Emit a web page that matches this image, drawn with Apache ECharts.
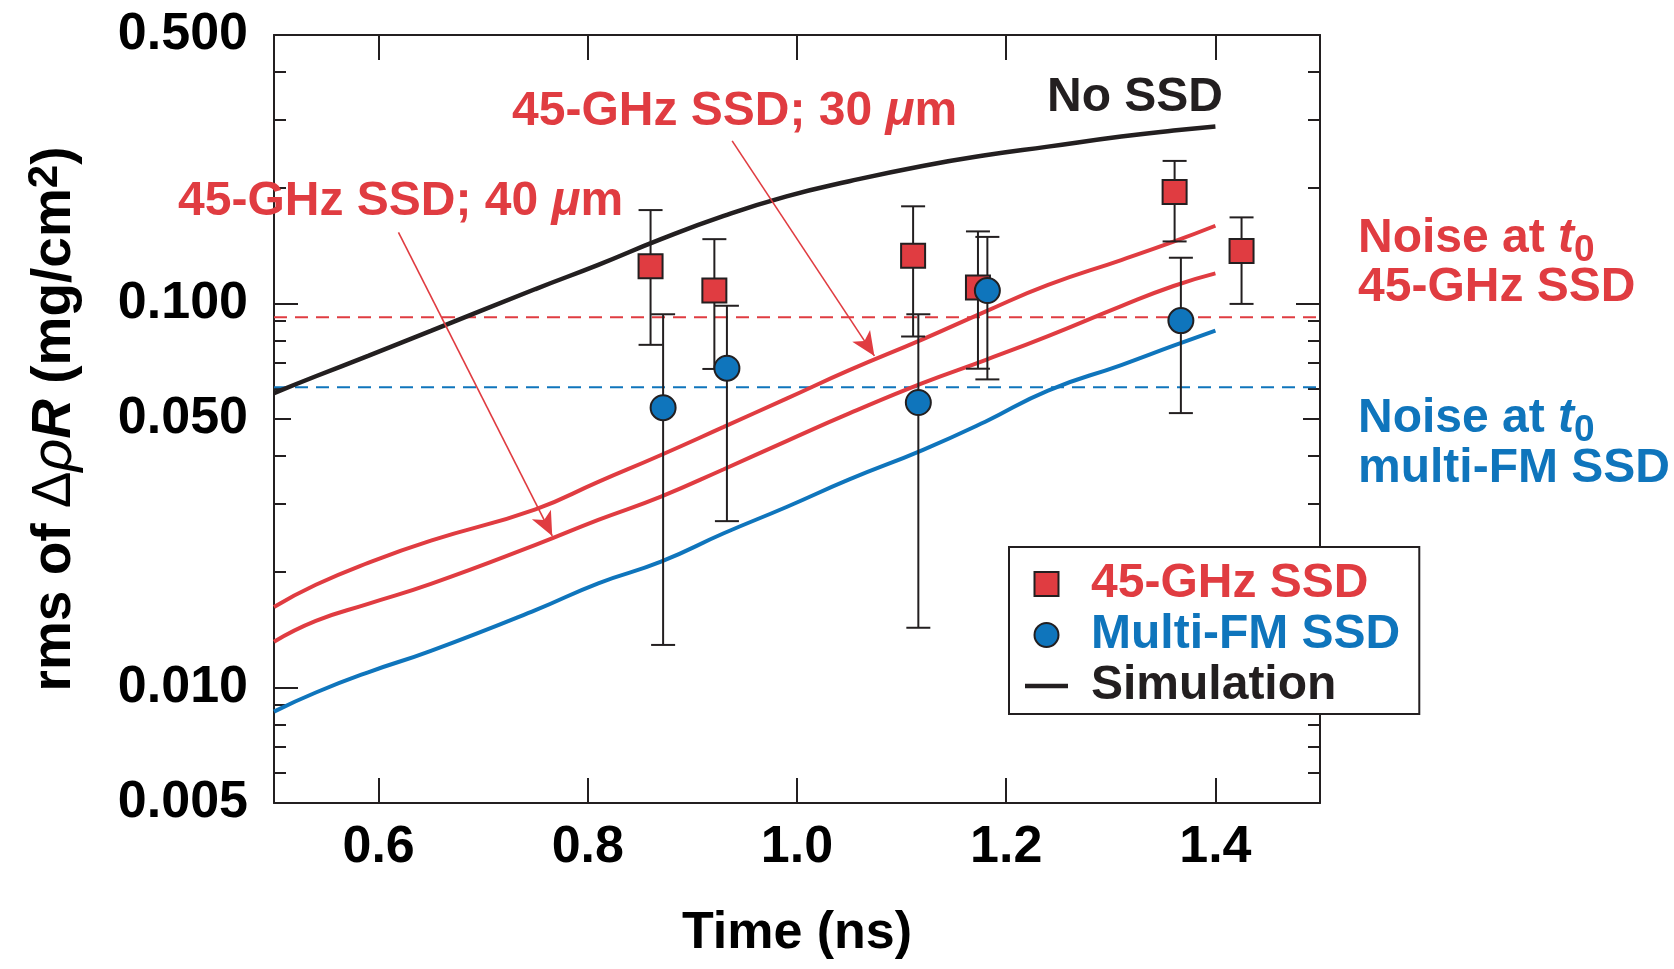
<!DOCTYPE html>
<html><head><meta charset="utf-8">
<script src="https://cdn.jsdelivr.net/npm/echarts@6/dist/echarts.min.js"></script>
<style>html,body{margin:0;padding:0;background:#fff}#c{width:1674px;height:969px}</style>
</head><body><div id="c"></div>
<script>
// ---- data ----
const curveTime   = [0.50, 0.54, 0.59, 0.65, 0.75, 0.81, 0.87, 0.93, 0.99, 1.05, 1.12, 1.18, 1.24, 1.31, 1.36, 1.40];
const simNoSSD    = [0.0584, 0.0646, 0.0730, 0.0848, 0.109, 0.126, 0.147, 0.169, 0.190, 0.208, 0.228, 0.243, 0.256, 0.272, 0.282, 0.289];
const sim30um     = [0.0162, 0.0185, 0.0211, 0.0241, 0.0291, 0.0343, 0.0403, 0.0477, 0.0565, 0.0670, 0.0806, 0.0952, 0.1117, 0.1297, 0.1448, 0.1593];
const sim40um     = [0.01315, 0.0149, 0.0165, 0.0186, 0.0235, 0.0273, 0.0314, 0.0370, 0.0438, 0.0517, 0.0620, 0.0712, 0.0822, 0.0984, 0.1110, 0.1197];
const simMultiFM  = [0.00865, 0.0097, 0.01095, 0.01245, 0.0159, 0.01867, 0.02126, 0.0252, 0.0295, 0.0348, 0.0415, 0.0492, 0.0593, 0.0691, 0.0776, 0.0849];

const ssd45Time  = [0.860, 0.921, 1.111, 1.173, 1.361, 1.425];
const ssd45Value = [0.125, 0.108, 0.133, 0.110, 0.195, 0.137];
const ssd45Low   = [0.078, 0.0675, 0.082, 0.0676, 0.145, 0.0997];
const ssd45High  = [0.175, 0.147, 0.179, 0.154, 0.235, 0.1675];

const fmTime  = [0.872, 0.933, 1.116, 1.182, 1.367];
const fmValue = [0.0535, 0.0678, 0.0552, 0.108, 0.0902];
const fmLow   = [0.0129, 0.0271, 0.0143, 0.0634, 0.0518];
const fmHigh  = [0.0937, 0.0986, 0.0937, 0.149, 0.1315];

const noiseLevel45 = 0.092;
const noiseLevelFM = 0.0605;
const noiseSpan = [0.5, 1.535];

const arrow30 = [[0.938, 0.265], [1.074, 0.073]];
const arrow40 = [[0.619, 0.153], [0.766, 0.0248]];

const xTicks = [0.6, 0.8, 1.0, 1.2, 1.4];
const yLabelTicks  = [0.005, 0.01, 0.05, 0.1, 0.5];
const yDecadeTicks = [0.01, 0.1];
const yHalfTicks   = [0.05];
const yMinorTicks  = [0.006, 0.007, 0.008, 0.009, 0.02, 0.03, 0.04, 0.06, 0.07, 0.08, 0.09, 0.2, 0.3, 0.4];

// ---- style ----
const RED = '#E03C41', BLUE = '#0F75BC', DARK = '#231F20';
const FF = "'Liberation Sans', Arial, Helvetica, sans-serif";
const SQUARE = 'path://M0,0L10,0L10,10L0,10Z';
const DASH = 'path://M0,0L43,0L43,4.5L0,4.5Z';

const chart = echarts.init(document.getElementById('c'), null, {renderer: 'canvas'});

function yAx(position, ticks, len, opts) {
  return Object.assign({
    type: 'log', logBase: 10, min: 0.005, max: 0.5, position: position,
    splitLine: {show: false},
    axisLine: {show: false},
    axisLabel: {show: false},
    axisTick: {show: true, inside: true, length: len, customValues: ticks, lineStyle: {color: DARK, width: 2}}
  }, opts || {});
}
const axisLineStyle = {show: true, lineStyle: {color: DARK, width: 2}};

const yAxes = [
  yAx('left', yDecadeTicks, 24, {
    axisLine: axisLineStyle,
    axisLabel: {show: true, customValues: yLabelTicks, formatter: v => Number(v).toFixed(3),
      margin: 26, fontSize: 52, fontWeight: 'bold', fontFamily: FF, color: '#000'},
    name: '{b|rms of }{d|Δ}{r|ρ}{ri|R}{b| (mg/cm}{s|2}{b|)}',
    nameLocation: 'middle', nameRotate: 90, nameGap: 188,
    nameTextStyle: {
      rich: {
        b: {fontSize: 55, fontWeight: 'bold', fontFamily: FF, color: '#000', lineHeight: 62},
        d: {fontSize: 55, fontWeight: 'normal', fontFamily: FF, color: '#000', lineHeight: 62},
        r: {fontSize: 57, fontWeight: 'normal', fontStyle: 'italic', fontFamily: FF, color: '#000', lineHeight: 62},
        ri: {fontSize: 55, fontWeight: 'bold', fontStyle: 'italic', fontFamily: FF, color: '#000', lineHeight: 62},
        s: {fontSize: 42, fontWeight: 'bold', fontFamily: FF, color: '#000', lineHeight: 35, verticalAlign: 'top'}
      }
    }
  }),
  yAx('left', yHalfTicks, 17),
  yAx('left', yMinorTicks, 12),
  yAx('right', yDecadeTicks, 24, {axisLine: axisLineStyle}),
  yAx('right', yHalfTicks, 17),
  yAx('right', yMinorTicks, 12)
];

const xAxes = [
  {type: 'value', min: 0.5, max: 1.5, position: 'bottom', splitLine: {show: false},
   axisLine: axisLineStyle,
   axisTick: {show: true, inside: true, length: 25, customValues: xTicks, lineStyle: {color: DARK, width: 2}},
   axisLabel: {show: true, customValues: xTicks, formatter: v => Number(v).toFixed(1), margin: 19,
     fontSize: 52, fontWeight: 'bold', fontFamily: FF, color: '#000'},
   name: 'Time (ns)', nameLocation: 'middle', nameGap: 105,
   nameTextStyle: {fontSize: 52, fontWeight: 'bold', fontFamily: FF, color: '#000'}},
  {type: 'value', min: 0.5, max: 1.5, position: 'top', splitLine: {show: false},
   axisLine: axisLineStyle,
   axisTick: {show: true, inside: true, length: 25, customValues: xTicks, lineStyle: {color: DARK, width: 2}},
   axisLabel: {show: false}}
];

function pairs(xs, ys) { return xs.map((x, i) => [x, ys[i]]); }

function errRender(params, api) {
  const x = api.value(0);
  const lo = api.coord([x, api.value(1)]);
  const hi = api.coord([x, api.value(2)]);
  const hw = 12;
  const st = {stroke: DARK, lineWidth: 2};
  return {type: 'group', children: [
    {type: 'line', shape: {x1: lo[0], y1: lo[1], x2: hi[0], y2: hi[1]}, style: st},
    {type: 'line', shape: {x1: lo[0] - hw, y1: lo[1], x2: lo[0] + hw, y2: lo[1]}, style: st},
    {type: 'line', shape: {x1: hi[0] - hw, y1: hi[1], x2: hi[0] + hw, y2: hi[1]}, style: st}
  ]};
}

function simLine(name, vals, color, width, extra) {
  return Object.assign({
    type: 'line', name: name, data: pairs(curveTime, vals), smooth: 0.5, symbol: 'none', showSymbol: false,
    lineStyle: {color: color, width: width}, itemStyle: {color: color},
    emphasis: {disabled: true}, z: 2, animation: false
  }, extra || {});
}

const series = [
  {type: 'line', name: 'noise45', data: noiseSpan.map(x => [x, noiseLevel45]), symbol: 'none', clip: false,
   lineStyle: {color: RED, width: 2, type: [13, 8]}, emphasis: {disabled: true}, z: 1, animation: false},
  {type: 'line', name: 'noiseFM', data: noiseSpan.map(x => [x, noiseLevelFM]), symbol: 'none', clip: false,
   lineStyle: {color: BLUE, width: 2, type: [13, 8]}, emphasis: {disabled: true}, z: 1, animation: false},
  simLine('Simulation', simNoSSD, DARK, 4.5),
  simLine('sim30', sim30um, RED, 4, {
    markLine: {silent: true, symbol: ['none', 'arrow'], symbolSize: [16, 24], animation: false,
      lineStyle: {color: RED, width: 1.6, type: 'solid'}, label: {show: false}, emphasis: {disabled: true},
      data: [
        [{coord: arrow30[0]}, {coord: arrow30[1]}],
        [{coord: arrow40[0]}, {coord: arrow40[1]}]
      ]}
  }),
  simLine('sim40', sim40um, RED, 4),
  simLine('simFM', simMultiFM, BLUE, 4),
  {type: 'custom', name: 'err45', renderItem: errRender, z: 3, animation: false,
   data: ssd45Time.map((t, i) => [t, ssd45Low[i], ssd45High[i]]), encode: {x: 0, y: [1, 2]}},
  {type: 'custom', name: 'errFM', renderItem: errRender, z: 3, animation: false,
   data: fmTime.map((t, i) => [t, fmLow[i], fmHigh[i]]), encode: {x: 0, y: [1, 2]}},
  {type: 'scatter', name: '45-GHz SSD', data: pairs(ssd45Time, ssd45Value), symbol: 'rect', symbolSize: 24,
   itemStyle: {color: RED, borderColor: DARK, borderWidth: 2, opacity: 1}, emphasis: {disabled: true}, z: 4, animation: false},
  {type: 'scatter', name: 'Multi-FM SSD', data: pairs(fmTime, fmValue), symbol: 'circle', symbolSize: 25,
   itemStyle: {color: BLUE, borderColor: DARK, borderWidth: 2, opacity: 1}, emphasis: {disabled: true}, z: 5, animation: false}
];

function txt(x, y, text, rich) {
  return {type: 'text', x: x, y: y, z: 10, silent: true,
    style: {text: text, rich: rich, align: 'left', verticalAlign: 'middle'}};
}
const baseRich = (color) => ({
  n: {fontSize: 48, fontWeight: 'bold', fontFamily: FF, fill: color, color: color, lineHeight: 60},
  i: {fontSize: 48, fontWeight: 'bold', fontStyle: 'italic', fontFamily: FF, fill: color, color: color, lineHeight: 60},
  sub: {fontSize: 37, fontWeight: 'bold', fontFamily: FF, fill: color, color: color, lineHeight: 36, verticalAlign: 'bottom'}
});

const graphics = [
  txt(1047, 98, '{n|No SSD}', baseRich(DARK)),
  txt(512, 112, '{n|45-GHz SSD; 30 }{i|μ}{n|m}', baseRich(RED)),
  txt(178, 202, '{n|45-GHz SSD; 40 }{i|μ}{n|m}', baseRich(RED)),
  txt(1358, 239, '{n|Noise at }{i|t}{sub|0}', baseRich(RED)),
  txt(1358, 288, '{n|45-GHz SSD}', baseRich(RED)),
  txt(1358, 419, '{n|Noise at }{i|t}{sub|0}', baseRich(BLUE)),
  txt(1358, 469, '{n|multi-FM SSD}', baseRich(BLUE))
];

chart.setOption({
  animation: false,
  backgroundColor: '#fff',
  grid: {left: 274, top: 35, width: 1046, height: 768, containLabel: false},
  xAxis: xAxes,
  yAxis: yAxes,
  legend: {
    left: 1009, top: 547, orient: 'vertical', selectedMode: false,
    padding: [13, 19, 4, 16], itemGap: 3, itemWidth: 43, itemHeight: 24,
    symbolKeepAspect: true,
    borderColor: DARK, borderWidth: 2, backgroundColor: '#fff',
    textStyle: {fontSize: 48, fontWeight: 'bold', fontFamily: FF, lineHeight: 48, padding: [0, 0, 0, 18]},
    data: [
      {name: '45-GHz SSD', icon: SQUARE, textStyle: {color: RED}},
      {name: 'Multi-FM SSD', icon: 'circle', textStyle: {color: BLUE}},
      {name: 'Simulation', icon: DASH, itemStyle: {color: DARK, borderWidth: 0}, textStyle: {color: DARK}}
    ]
  },
  series: series,
  graphic: graphics
});
</script>
</body></html>
